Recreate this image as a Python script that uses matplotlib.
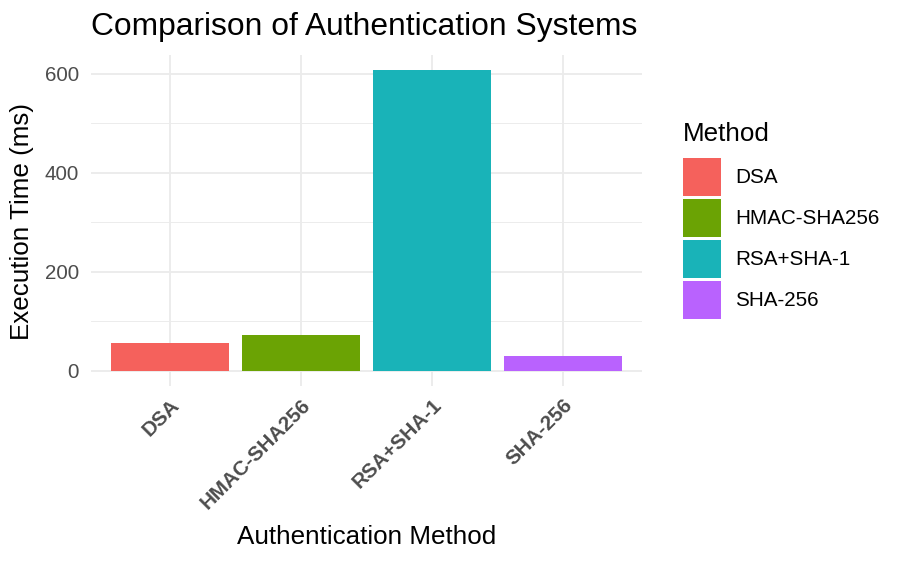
import matplotlib
matplotlib.use("Agg")
import matplotlib.pyplot as plt
from matplotlib.patches import Patch

# Data
methods = ["DSA", "HMAC-SHA256", "RSA+SHA-1", "SHA-256"]
exec_ms = [55.5, 71.5, 608, 29.5]
colors = ["#F5615C", "#6BA304", "#19B3B8", "#B962FE"]
y_ticks = [0, 200, 400, 600]
y_minor = [100, 300, 500]

plt.rcParams["font.family"] = ["Liberation Sans", "DejaVu Sans"]

W, H = 910, 562
fig = plt.figure(figsize=(W / 100, H / 100), dpi=100)
# panel in pixels: x 91.3..642, y 54.8..385.7
ax = fig.add_axes([91.3 / W, 1 - 385.7 / H, (642 - 91.3) / W, (385.7 - 54.8) / H])

x = range(len(methods))
ax.bar(x, exec_ms, width=0.9, color=colors, zorder=2)

ax.set_xlim(-0.6, len(methods) - 0.4)
top = max(exec_ms)
ax.set_ylim(-0.05 * top, top * 1.05)

ax.set_yticks(y_ticks)
ax.set_yticks(y_minor, minor=True)
ax.set_xticks(list(x))
ax.set_xticklabels(methods, rotation=45, ha="right", va="top",
                   rotation_mode="anchor", fontweight="bold")

ax.grid(which="major", color="#EBEBEB", linewidth=1.3)
ax.grid(which="minor", axis="y", color="#EBEBEB", linewidth=0.65)
ax.set_axisbelow(True)
for s in ax.spines.values():
    s.set_visible(False)

ax.tick_params(axis="both", which="both", length=0, labelcolor="#4D4D4D", labelsize=14.9)
ax.tick_params(axis="y", pad=9)
ax.tick_params(axis="x", pad=7)

ax.set_title("Comparison of Authentication Systems", loc="left", fontsize=22.9, pad=14.5)

ax.set_xlabel("Authentication Method", fontsize=18.7)
ax.xaxis.set_label_coords(0.5 * (91.3 + 642) / W, 1 - 544 / H, transform=fig.transFigure)
ax.xaxis.label.set_va("baseline")

ax.set_ylabel("Execution Time (ms)", fontsize=18.7)
ax.yaxis.set_label_coords(22 / W, 1 - 222 / H, transform=fig.transFigure)
ax.yaxis.label.set_va("center")
ax.yaxis.label.set_ha("center")

# legend: square keys ~38px, 3px gaps
handles = [Patch(facecolor=c, edgecolor="none") for c in colors]
fs = 14.9
px = fs * 100 / 72
key = 38 / px
hh = (key - 0.245) / 0.65
leg = ax.legend(handles, methods, title="Method", fontsize=fs, title_fontsize=18.7,
                loc="upper left", bbox_to_anchor=(682.5 / W, 1 - 122 / H),
                bbox_transform=fig.transFigure, frameon=False,
                handlelength=key, handleheight=hh,
                handletextpad=15 / px, labelspacing=3 / px,
                borderpad=0, borderaxespad=0, alignment="left")
leg._legend_box.sep = 8.7

fig.savefig("out.png", dpi=100)
